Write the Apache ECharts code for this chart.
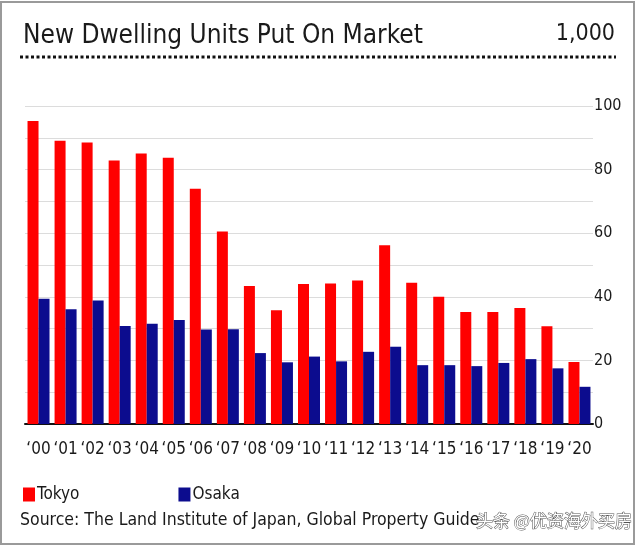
<!DOCTYPE html>
<html>
<head>
<meta charset="utf-8">
<script src="https://cdn.jsdelivr.net/npm/echarts@6/dist/echarts.min.js"></script>
<style>
html,body{margin:0;padding:0;background:#fff;}
#c{width:640px;height:546px;}
</style>
</head>
<body>
<div id="c"></div>
<script>
const years = ["‘00","‘01","‘02","‘03","‘04","‘05","‘06","‘07","‘08","‘09","‘10","‘11","‘12","‘13","‘14","‘15","‘16","‘17","‘18","‘19","‘20"];
const tokyo = [95.3,89.1,88.5,82.9,85.1,83.7,74.0,60.5,43.4,35.8,44.0,44.2,45.1,56.2,44.4,40.0,35.2,35.2,36.5,30.7,19.5];
const osaka = [39.4,36.1,38.8,30.8,31.5,32.7,29.7,29.8,22.3,19.4,21.2,19.7,22.7,24.3,18.5,18.5,18.2,19.2,20.4,17.5,11.7];
const titleText = "New Dwelling Units Put On Market";
const unitText = "1,000";
const sourceText = "Source: The Land Institute of Japan, Global Property Guide";
const watermark = "头条 @优资海外买房";

const FONT = "'DejaVu Sans Condensed','DejaVu Sans',sans-serif";
const chart = echarts.init(document.getElementById('c'), null, {renderer:'canvas'});
chart.setOption({
  backgroundColor: '#ffffff',
  animation: false,
  title: {
    text: titleText, left: 18, top: 18,
    textStyle: {fontFamily: FONT, fontSize: 26, fontWeight: 'normal', color: '#1a1a1a'}
  },
  legend: {
    left: 18, top: 481, itemWidth: 12, itemHeight: 14, itemGap: 99,
    icon: 'rect',
    textStyle: {fontFamily: FONT, fontSize: 17, color: '#1a1a1a', padding: [0,0,0,-3]},
    data: ['Tokyo','Osaka']
  },
  grid: {left: 25, right: 47, top: 106, bottom: 122, containLabel: false},
  xAxis: {
    type: 'category', data: years,
    axisLine: {lineStyle: {color: '#111', width: 2}},
    axisTick: {length: 9, lineStyle: {color: '#888', width: 1}, interval: 0},
    axisLabel: {fontFamily: FONT, fontSize: 17, color: '#1a1a1a', margin: 17, interval: 0}
  },
  yAxis: {
    type: 'value', position: 'right', min: 0, max: 100, interval: 10,
    axisLine: {show: false}, axisTick: {show: false},
    splitLine: {lineStyle: {color: '#dcdcdc', width: 1}},
    axisLabel: {fontFamily: FONT, fontSize: 16, color: '#1a1a1a', margin: 1,
      formatter: v => (v % 20 === 0 ? String(v) : '')}
  },
  series: [
    {name: 'Tokyo', type: 'bar', data: tokyo, barWidth: 11, barGap: '0%',
     itemStyle: {color: '#ff0000'}},
    {name: 'Osaka', type: 'bar', data: osaka, barWidth: 11,
     itemStyle: {color: '#0c0c8e'}}
  ],
  graphic: [
    {type: 'rect', shape: {x: 1, y: 2, width: 633, height: 542},
     style: {fill: 'none', stroke: '#9a9a9a', lineWidth: 2}, silent: true, z: 10},
    {type: 'text', x: 615, y: 34,
     style: {text: unitText, font: "23px " + FONT, fill: '#1a1a1a', align: 'right', verticalAlign: 'middle'}},
    {type: 'line', shape: {x1: 20, y1: 57, x2: 616, y2: 57},
     style: {stroke: '#111', lineWidth: 3, lineDash: [3, 2.5]}},
    {type: 'text', x: 20, y: 520,
     style: {text: sourceText, font: "17.5px " + FONT, fill: '#1a1a1a', verticalAlign: 'middle'}},
    {type: 'text', x: 476, y: 521, z: 20,
     style: {text: watermark, font: "17px 'Noto Sans CJK SC',sans-serif", fill: '#ffffff', stroke: '#555', lineWidth: 1, verticalAlign: 'middle'}}
  ]
});
</script>
</body>
</html>
